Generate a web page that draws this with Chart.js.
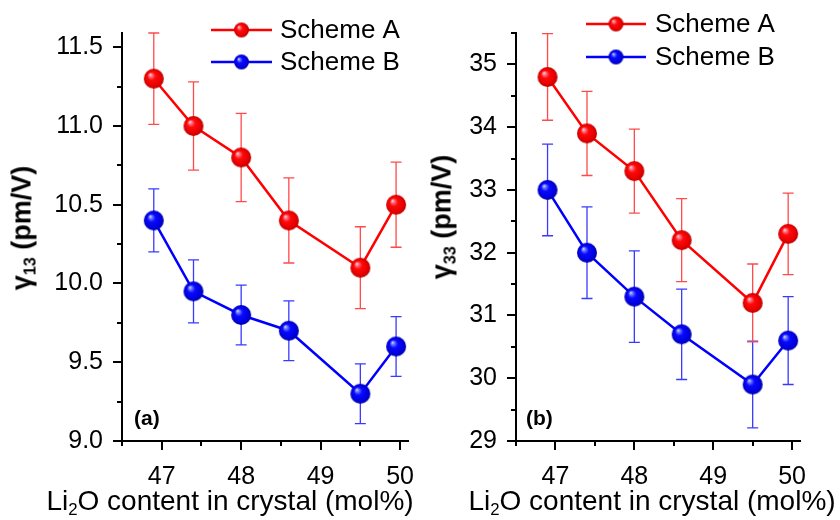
<!DOCTYPE html>
<html><head><meta charset="utf-8">
<script src="https://cdn.jsdelivr.net/npm/chart.js@4.4.0/dist/chart.umd.min.js"></script>
<style>
html,body{margin:0;padding:0;background:#fff;}
#wrap{position:relative;width:840px;height:520px;overflow:hidden;font-family:'Liberation Sans',Arial,sans-serif;color:#000;}
.cv{position:absolute;top:0;width:420px;height:520px;}
.ytitle{position:absolute;font-weight:bold;font-size:27px;line-height:27px;white-space:nowrap;transform:translate(-50%,-50%) rotate(-90deg);}
.xtitle{position:absolute;font-size:28px;line-height:28px;white-space:nowrap;transform:translateX(-50%);}
.plabel{position:absolute;font-weight:bold;font-size:21px;line-height:21px;}
sub{font-size:0.6em;vertical-align:-0.3em;line-height:0;}
</style></head>
<body><div id="wrap">
<div class="cv" style="left:0"><canvas id="c1" width="420" height="520"></canvas></div>
<div class="cv" style="left:420px"><canvas id="c2" width="420" height="520"></canvas></div>
<div class="ytitle" style="left:22px;top:228px">γ<sub>13</sub> (pm/V)</div>
<div class="ytitle" style="left:442px;top:217px">γ<sub>33</sub> (pm/V)</div>
<div class="xtitle" style="left:230px;top:487px">Li<sub>2</sub>O content in crystal (mol%)</div>
<div class="xtitle" style="left:652px;top:487px">Li<sub>2</sub>O content in crystal (mol%)</div>
<div class="plabel" style="left:134px;top:407px">(a)</div>
<div class="plabel" style="left:526px;top:407px">(b)</div>
</div>
<script>
// ---- data ----
const seriesNames = ['Scheme A', 'Scheme B'];
const liContent = [46.9, 47.4, 48.0, 48.6, 49.5, 49.95];
const g13A = [11.3, 11.0, 10.8, 10.4, 10.1, 10.5];
const g13AErr = [0.29, 0.28, 0.28, 0.27, 0.26, 0.27];
const g13B = [10.4, 9.95, 9.8, 9.7, 9.3, 9.6];
const g13BErr = [0.20, 0.20, 0.19, 0.19, 0.19, 0.19];
const g33A = [34.8, 33.9, 33.3, 32.2, 31.2, 32.3];
const g33AErr = [0.69, 0.67, 0.67, 0.66, 0.62, 0.65];
const g33B = [33.0, 32.0, 31.3, 30.7, 29.9, 30.6];
const g33BErr = [0.73, 0.73, 0.73, 0.72, 0.69, 0.70];
const xTicks = [47, 48, 49, 50];
const g13Ticks = [9.0, 9.5, 10.0, 10.5, 11.0, 11.5];
const g33Ticks = [29, 30, 31, 32, 33, 34, 35];

const FONT = "'Liberation Sans', Arial, sans-serif";

function sphere(r, stops) {
  const c = document.createElement('canvas');
  const s = Math.ceil(2 * r + 2);
  c.width = s; c.height = s;
  const ctx = c.getContext('2d');
  const cx = s / 2, cy = s / 2;
  const g = ctx.createRadialGradient(cx - 0.38 * r, cy - 0.42 * r, 0, cx, cy, r);
  stops.forEach(st => g.addColorStop(st[0], st[1]));
  ctx.fillStyle = g;
  ctx.beginPath(); ctx.arc(cx, cy, r, 0, Math.PI * 2); ctx.fill();
  return c;
}
const redStops = [[0, '#f4e8f2'], [0.16, '#ff7a8a'], [0.4, '#ff0a0a'], [0.8, '#e80000'], [1, '#b80000']];
const blueStops = [[0, '#e8eeff'], [0.16, '#7080ff'], [0.4, '#0a0aff'], [0.8, '#0000e0'], [1, '#0000a8']];
const redBall = sphere(10, redStops), blueBall = sphere(10, blueStops);
const redBallS = sphere(7.5, redStops), blueBallS = sphere(7.5, blueStops);

const errorBars = {
  id: 'errorBars',
  beforeDatasetDraw(chart, args) {
    const ds = chart.data.datasets[args.index];
    if (!ds.errors) return;
    const xs = chart.scales.x, ys = chart.scales.y, ctx = chart.ctx;
    ctx.save();
    ctx.strokeStyle = ds.errorColor; ctx.lineWidth = 1.3;
    ds.data.forEach((p, i) => {
      const px = xs.getPixelForValue(p.x);
      const t = ys.getPixelForValue(p.y + ds.errors[i]);
      const b = ys.getPixelForValue(p.y - ds.errors[i]);
      ctx.beginPath();
      ctx.moveTo(px, t); ctx.lineTo(px, b);
      ctx.moveTo(px - 5.5, t); ctx.lineTo(px + 5.5, t);
      ctx.moveTo(px - 5.5, b); ctx.lineTo(px + 5.5, b);
      ctx.stroke();
    });
    ctx.restore();
  }
};

const minorTicks = {
  id: 'minorTicks',
  afterDraw(chart) {
    const ctx = chart.ctx, xs = chart.scales.x, ys = chart.scales.y, a = chart.chartArea;
    ctx.save(); ctx.strokeStyle = '#000'; ctx.lineWidth = 2;
    const mids = (ticks, min, max) => {
      const v = ticks.map(t => t.value), out = [];
      const step = v[1] - v[0];
      for (let i = -1; i < v.length; i++) {
        const m = (i < 0 ? v[0] - step : v[i]) + step / 2;
        if (m >= min - 1e-6 && m <= max + 1e-6) out.push(m);
      }
      return out;
    };
    mids(xs.ticks, xs.min, xs.max).forEach(m => {
      const px = Math.round(xs.getPixelForValue(m));
      ctx.beginPath(); ctx.moveTo(px, a.bottom); ctx.lineTo(px, a.bottom + 5); ctx.stroke();
    });
    mids(ys.ticks, ys.min, ys.max).forEach(m => {
      const py = Math.round(ys.getPixelForValue(m));
      ctx.beginPath(); ctx.moveTo(a.left - 5, py); ctx.lineTo(a.left, py); ctx.stroke();
    });
    ctx.restore();
  }
};

const legendPlugin = {
  id: 'ballLegend',
  afterDraw(chart, args, opts) {
    const ctx = chart.ctx;
    ctx.save();
    chart.data.datasets.forEach((ds, i) => {
      const y = opts.y[i];
      ctx.strokeStyle = ds.borderColor; ctx.lineWidth = 2.5;
      ctx.beginPath(); ctx.moveTo(opts.x0, y); ctx.lineTo(opts.x1, y); ctx.stroke();
      const img = ds.legendBall;
      ctx.drawImage(img, (opts.x0 + opts.x1) / 2 - img.width / 2, y - img.height / 2);
      ctx.fillStyle = '#000'; ctx.font = '26px ' + FONT; ctx.textBaseline = 'middle'; ctx.textAlign = 'left';
      ctx.fillText(ds.label, opts.tx, y + 1);
    });
    ctx.restore();
  }
};

function makeChart(id, a, aErr, b, bErr, yTicks, yMin, yMax, yDec, yAxisWidth, rightPad, legendPos) {
  const pts = arr => arr.map((v, i) => ({ x: liContent[i], y: v }));
  return new Chart(document.getElementById(id), {
    type: 'line',
    data: {
      datasets: [
        { label: seriesNames[0], data: pts(a), errors: aErr, errorColor: '#ff4a4a', borderColor: '#ff0000', borderWidth: 2.5,
          pointStyle: redBall, legendBall: redBallS, clip: false },
        { label: seriesNames[1], data: pts(b), errors: bErr, errorColor: '#3a3aff', borderColor: '#0000ff', borderWidth: 2.5,
          pointStyle: blueBall, legendBall: blueBallS, clip: false }
      ]
    },
    options: {
      responsive: false, animation: false,
      layout: { padding: { top: 33, right: rightPad, left: 0, bottom: 0 } },
      plugins: { legend: { display: false }, tooltip: { enabled: false }, ballLegend: legendPos },
      scales: {
        x: {
          type: 'linear', min: 46.5, max: 50.1,
          afterBuildTicks: s => { s.ticks = xTicks.map(v => ({ value: v })); },
          afterFit: s => { s.height = 79; s.paddingLeft = 0; s.paddingRight = 0; },
          grid: { drawOnChartArea: false, drawTicks: true, tickLength: 9, color: '#000', lineWidth: 2 },
          border: { display: true, color: '#000', width: 2 },
          ticks: { color: '#000', padding: 12, font: { family: FONT, size: 25 }, maxRotation: 0, callback: v => String(v) }
        },
        y: {
          type: 'linear', min: yMin, max: yMax,
          afterBuildTicks: s => { s.ticks = yTicks.map(v => ({ value: v })); },
          afterFit: s => { s.width = yAxisWidth; s.paddingTop = 0; s.paddingBottom = 0; },
          grid: { drawOnChartArea: false, drawTicks: true, tickLength: 9, color: '#000', lineWidth: 2 },
          border: { display: true, color: '#000', width: 2 },
          ticks: { color: '#000', padding: 10, font: { family: FONT, size: 25 }, callback: v => Number(v).toFixed(yDec) }
        }
      }
    },
    plugins: [errorBars, minorTicks, legendPlugin]
  });
}

makeChart('c1', g13A, g13AErr, g13B, g13BErr, g13Ticks, 9.0, 11.59, 1, 122, 12, { x0: 211, x1: 272, tx: 280, y: [30, 62] });
makeChart('c2', g33A, g33AErr, g33B, g33BErr, g33Ticks, 29, 35.5, 0, 96, 40, { x0: 166, x1: 226, tx: 235, y: [24, 57] });
</script>
</body></html>
